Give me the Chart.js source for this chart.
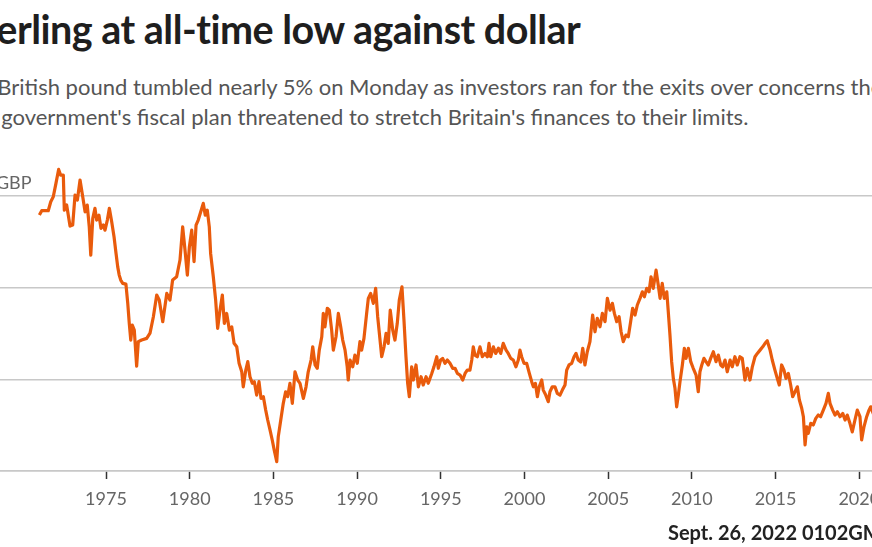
<!DOCTYPE html>
<html>
<head>
<meta charset="utf-8">
<script src="https://cdn.jsdelivr.net/npm/chart.js@4.4.0/dist/chart.umd.min.js"></script>
<style>
  html, body { margin: 0; padding: 0; background: #fff; overflow: hidden; width: 872px; height: 547px; }
  body { position: relative; font-family: Lato, "Noto Sans", sans-serif; }
  #title { position: absolute; left: -38px; top: 5px; font-size: 39.5px; font-weight: 700; color: #1e1e1e; white-space: nowrap; letter-spacing: -0.5px; }
  #sub { position: absolute; left: -45px; top: 72px; font-size: 22px; line-height: 30px; color: #555; white-space: nowrap; }
  #date { position: absolute; left: 668px; top: 520px; font-size: 20px; font-weight: 700; color: #222; white-space: nowrap; }
  #wrap { position: absolute; left: -100px; top: 0; }
</style>
</head>
<body>
<div id="title">Sterling at all-time low against dollar</div>
<div id="sub">The British pound tumbled nearly 5% on Monday as investors ran for the exits over concerns the<br>new government's fiscal plan threatened to stretch Britain's finances to their limits.</div>
<div id="wrap"><canvas id="myChart" width="1040" height="547"></canvas></div>
<div id="date">Sept. 26, 2022 0102GMT</div>
<script>
// GBP/USD, dollars per pound
const years = [
  1971.02,1971.16,1971.55,1971.70,1971.85,1972.01,1972.17,1972.29,1972.45,1972.51,
  1972.65,1972.85,1973.01,1973.15,1973.29,1973.45,1973.61,1973.75,1973.88,1974.00,
  1974.09,1974.21,1974.34,1974.44,1974.58,1974.70,1974.84,1974.94,1975.08,1975.20,
  1975.34,1975.48,1975.60,1975.70,1975.79,1975.88,1976.00,1976.19,1976.30,1976.39,
  1976.48,1976.57,1976.69,1976.83,1976.93,1977.13,1977.43,1977.63,1977.83,1978.03,
  1978.18,1978.39,1978.63,1978.82,1978.98,1979.22,1979.42,1979.58,1979.72,1979.86,
  1979.98,1980.12,1980.26,1980.38,1980.51,1980.66,1980.81,1980.93,1981.05,1981.17,
  1981.25,1981.41,1981.55,1981.67,1981.81,1981.95,1982.07,1982.21,1982.37,1982.51,
  1982.65,1982.81,1982.95,1983.11,1983.20,1983.35,1983.47,1983.60,1983.74,1983.86,
  1984.00,1984.14,1984.26,1984.40,1984.54,1984.66,1984.80,1984.93,1985.05,1985.20,
  1985.29,1985.44,1985.59,1985.73,1985.85,1985.99,1986.13,1986.29,1986.45,1986.59,
  1986.79,1986.95,1987.08,1987.25,1987.35,1987.49,1987.62,1987.74,1987.89,1987.98,
  1988.08,1988.22,1988.34,1988.48,1988.58,1988.74,1988.88,1989.02,1989.14,1989.28,
  1989.41,1989.47,1989.58,1989.74,1989.87,1990.01,1990.17,1990.27,1990.41,1990.57,
  1990.67,1990.81,1990.97,1991.11,1991.23,1991.33,1991.47,1991.61,1991.73,1991.86,
  1991.98,1992.13,1992.26,1992.40,1992.52,1992.68,1992.80,1992.92,1993.02,1993.12,
  1993.26,1993.36,1993.52,1993.66,1993.82,1993.95,1994.12,1994.25,1994.46,1994.59,
  1994.76,1994.85,1994.99,1995.11,1995.25,1995.39,1995.55,1995.71,1995.85,1995.99,
  1996.15,1996.31,1996.45,1996.58,1996.74,1996.85,1996.94,1997.04,1997.18,1997.34,
  1997.48,1997.64,1997.78,1997.88,1997.98,1998.14,1998.28,1998.44,1998.58,1998.73,
  1998.90,1999.03,1999.18,1999.33,1999.49,1999.63,1999.73,1999.83,1999.97,2000.13,
  2000.29,2000.43,2000.53,2000.65,2000.77,2000.88,2001.03,2001.12,2001.27,2001.42,
  2001.52,2001.66,2001.82,2001.96,2002.12,2002.26,2002.42,2002.52,2002.66,2002.82,
  2002.96,2003.08,2003.21,2003.36,2003.48,2003.61,2003.75,2003.91,2004.07,2004.21,
  2004.35,2004.51,2004.65,2004.81,2004.95,2005.11,2005.25,2005.37,2005.51,2005.65,
  2005.77,2005.90,2006.06,2006.20,2006.34,2006.46,2006.60,2006.74,2006.90,2007.04,
  2007.16,2007.30,2007.44,2007.56,2007.69,2007.86,2007.99,2008.10,2008.23,2008.35,
  2008.50,2008.59,2008.69,2008.79,2008.89,2008.99,2009.09,2009.19,2009.29,2009.43,
  2009.55,2009.65,2009.79,2009.93,2010.08,2010.25,2010.38,2010.48,2010.59,2010.72,
  2010.84,2010.98,2011.12,2011.28,2011.44,2011.58,2011.72,2011.84,2011.98,2012.11,
  2012.28,2012.41,2012.57,2012.71,2012.87,2013.01,2013.17,2013.31,2013.47,2013.61,
  2013.77,2013.91,2014.07,2014.23,2014.37,2014.50,2014.67,2014.80,2014.96,2015.10,
  2015.22,2015.36,2015.50,2015.62,2015.76,2015.90,2016.02,2016.16,2016.30,2016.42,
  2016.56,2016.66,2016.76,2016.86,2016.95,2017.10,2017.25,2017.40,2017.55,2017.69,
  2017.85,2018.01,2018.15,2018.25,2018.41,2018.55,2018.69,2018.85,2019.01,2019.15,
  2019.28,2019.44,2019.58,2019.74,2019.88,2020.04,2020.14,2020.28,2020.44,2020.58,
  2020.68,2020.85,2021.00,2021.15,2021.35,2021.50,2021.70,2021.90,2022.05,2022.20,
  2022.35,2022.48,2022.60,2022.68,2022.73
];
const rates = [
  2.395,2.419,2.419,2.468,2.495,2.568,2.644,2.613,2.613,2.422,
  2.450,2.335,2.341,2.504,2.477,2.586,2.495,2.413,2.450,2.331,
  2.177,2.377,2.432,2.368,2.395,2.323,2.341,2.313,2.368,2.432,
  2.359,2.277,2.186,2.113,2.068,2.041,2.023,2.019,1.914,1.805,
  1.714,1.796,1.768,1.572,1.705,1.714,1.723,1.752,1.841,1.959,
  1.932,1.814,1.968,1.932,2.041,2.059,2.150,2.331,2.204,2.068,
  2.222,2.313,2.141,2.341,2.368,2.413,2.459,2.395,2.422,2.331,
  2.186,2.059,1.932,1.778,1.877,1.959,1.805,1.859,1.768,1.786,
  1.696,1.677,1.587,1.541,1.459,1.550,1.596,1.514,1.478,1.487,
  1.414,1.487,1.396,1.405,1.332,1.278,1.223,1.169,1.114,1.051,
  1.187,1.278,1.369,1.432,1.405,1.478,1.369,1.541,1.496,1.478,
  1.396,1.459,1.541,1.605,1.677,1.578,1.560,1.659,1.732,1.859,
  1.786,1.887,1.877,1.768,1.659,1.732,1.859,1.786,1.714,1.659,
  1.568,1.496,1.605,1.568,1.632,1.587,1.705,1.659,1.723,1.859,
  1.941,1.968,1.914,1.996,1.841,1.750,1.623,1.677,1.750,1.696,
  1.877,1.768,1.714,1.805,1.932,2.004,1.823,1.623,1.478,1.405,
  1.568,1.496,1.578,1.459,1.514,1.469,1.514,1.478,1.532,1.568,
  1.623,1.560,1.605,1.614,1.587,1.605,1.587,1.560,1.560,1.532,
  1.523,1.496,1.532,1.550,1.550,1.605,1.677,1.632,1.623,1.677,
  1.623,1.641,1.623,1.696,1.623,1.677,1.641,1.669,1.641,1.696,
  1.659,1.641,1.614,1.605,1.568,1.605,1.659,1.623,1.587,1.587,
  1.532,1.487,1.459,1.478,1.405,1.459,1.496,1.441,1.414,1.378,
  1.432,1.459,1.459,1.423,1.414,1.441,1.469,1.550,1.578,1.587,
  1.623,1.641,1.605,1.594,1.669,1.578,1.650,1.705,1.850,1.759,
  1.832,1.786,1.859,1.814,1.941,1.877,1.914,1.859,1.814,1.841,
  1.759,1.705,1.741,1.732,1.814,1.887,1.850,1.905,1.941,1.977,
  1.950,1.996,1.977,2.059,1.996,2.095,2.014,1.941,2.023,1.941,
  1.977,1.868,1.741,1.596,1.505,1.451,1.350,1.414,1.487,1.578,
  1.669,1.614,1.669,1.596,1.560,1.523,1.432,1.541,1.578,1.614,
  1.596,1.578,1.614,1.650,1.596,1.632,1.578,1.568,1.605,1.541,
  1.605,1.568,1.623,1.578,1.623,1.614,1.496,1.560,1.496,1.568,
  1.623,1.641,1.659,1.677,1.696,1.710,1.659,1.605,1.550,1.505,
  1.469,1.578,1.550,1.505,1.532,1.469,1.405,1.432,1.459,1.387,
  1.342,1.296,1.142,1.241,1.205,1.260,1.251,1.287,1.305,1.296,
  1.332,1.369,1.423,1.369,1.332,1.305,1.323,1.296,1.314,1.278,
  1.305,1.260,1.213,1.278,1.332,1.296,1.169,1.241,1.296,1.332,
  1.350,1.310,1.360,1.390,1.410,1.390,1.370,1.330,1.350,1.330,
  1.280,1.220,1.200,1.140,1.040
];
const yearTicks = [1975, 1980, 1985, 1990, 1995, 2000, 2005, 2010, 2015, 2020];
const rateTicks = [1, 1.5, 2, 2.5];

const points = years.map((x, i) => ({ x: x, y: rates[i] }));

new Chart(document.getElementById("myChart"), {
  type: "line",
  data: {
    datasets: [
      {
        data: points,
        borderColor: "#e95b0c",
        borderWidth: 3.2,
        pointRadius: 0,
        tension: 0,
        borderJoinStyle: "round",
      },
    ],
  },
  options: {
    responsive: false,
    animation: false,
    layout: { padding: { top: 150, left: 0, right: 0, bottom: 0 } },
    plugins: { legend: { display: false }, tooltip: { enabled: false } },
    scales: {
      x: {
        type: "linear",
        min: 1962.694,
        max: 2024.821,
        afterFit: (s) => { s.height = 76; },
        afterBuildTicks: (s) => { s.ticks = yearTicks.map((v) => ({ value: v })); },
        grid: { drawOnChartArea: false, drawTicks: true, tickLength: 8, tickColor: "#333", tickWidth: 1.5 },
        border: { display: true, color: "#c8c8c8", width: 1.5 },
        ticks: {
          color: "#666",
          font: { family: "Lato", size: 18 },
          padding: 9,
          maxRotation: 0,
          autoSkip: false,
          callback: (v) => String(v),
        },
      },
      y: {
        min: 1,
        max: 2.75,
        afterFit: (s) => { s.width = 0; },
        afterBuildTicks: (s) => { s.ticks = rateTicks.map((v) => ({ value: v })); },
        grid: { color: "#c8c8c8", lineWidth: 1.5, drawTicks: false },
        border: { display: false },
        ticks: {
          mirror: true,
          padding: 25,
          labelOffset: -13,
          color: "#666",
          font: { family: "Lato", size: 18 },
          callback: (v) => (v === 2.5 ? "$2.5 per GBP" : v.toFixed(1)),
        },
      },
    },
  },
});
</script>
</body>
</html>
